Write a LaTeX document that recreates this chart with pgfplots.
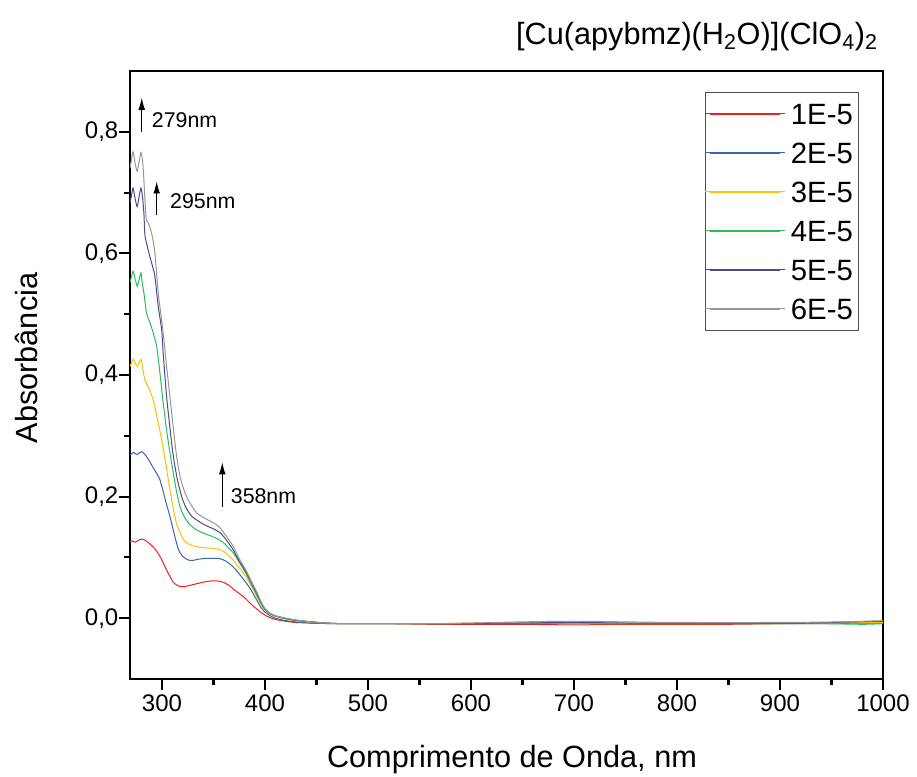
\documentclass[border=0pt]{standalone}
\usepackage{fontspec}
\setmainfont{Liberation Sans}
\usepackage{pgfplots}
\pgfplotsset{compat=1.18}
\usetikzlibrary{arrows.meta}
\newcommand\fs[1]{\fontsize{#1pt}{#1pt}\selectfont}
\definecolor{cRed}{RGB}{240,30,30}
\definecolor{cBlue}{RGB}{55,100,170}
\definecolor{cYel}{RGB}{255,190,0}
\definecolor{cGreen}{RGB}{40,190,90}
\definecolor{cPurp}{RGB}{75,75,140}
\definecolor{cGrey}{RGB}{150,150,150}
\definecolor{cFrame}{RGB}{80,80,80}
\begin{document}
\begin{tikzpicture}
\useasboundingbox (-97.5pt,-72.75pt) rectangle (590.25pt,509.25pt);
\begin{axis}[
  at={(0,0)}, anchor=south west,
  scale only axis, width=564.75pt, height=456pt,
  xmin=269, xmax=1000, ymin=-0.1, ymax=0.9,
  axis line style={line width=1.9pt},
  xtick={300,400,500,600,700,800,900,1000}, minor x tick num=1,
  ytick={0,0.2,0.4,0.6,0.8}, minor y tick num=1,
  tick align=outside, xtick pos=left, ytick pos=left,
  major tick length=8.25pt, minor tick length=4.5pt,
  major tick style={line width=1.6pt, black},
  minor tick style={line width=1.6pt, black},
  tick label style={font=\fs{18}},
  yticklabel style={xshift=3pt, /pgf/number format/.cd, use comma, fixed, fixed zerofill, precision=1, assume math mode=true},
  xticklabel style={/pgf/number format/.cd, 1000 sep={}, assume math mode=true},
  xlabel={Comprimento de Onda, nm},
  xlabel style={font=\fs{23}, at={(rel axis cs:0.5073,0)}, anchor=base, yshift=-66pt},
  ylabel={Absorbância},
  ylabel style={font=\fs{23}, at={(rel axis cs:-0.1222,0.528)}, anchor=base},
  legend cell align=left,
  legend style={at={(rel axis cs:0.9672,0.966)}, anchor=north east,
    draw=cFrame, line width=0.6pt,
    font=\fs{22}, inner xsep=0pt, inner ysep=1.6pt, row sep=0pt,
    nodes={inner xsep=3.75pt, inner ysep=6.75pt, text height=15.75pt, text depth=0pt}},
  legend image code/.code={\path (0pt,0pt) -- (60pt,0pt); \draw[#1, line width=1.3pt] (3.75pt,0pt) -- (56.25pt,0pt);},
  every axis plot/.append style={line width=0.75pt, smooth, tension=0.4},
  clip=true,
]
% 1E-5
\addplot[cRed] coordinates {
(269,0.126)(271,0.127)(274,0.125)(277,0.128)(280,0.130)(283,0.129)(287,0.124)(291,0.118)(295,0.110)(298,0.102)(301,0.092)(304,0.081)(308,0.068)(311,0.059)(314,0.055)(318,0.052)(322,0.052)(327,0.054)(332,0.056)(337,0.058)(342,0.060)(348,0.0612)(353,0.0613)(358,0.060)(362,0.057)(366,0.053)(370,0.047)(374,0.042)(378,0.037)(382,0.031)(386,0.024)(390,0.018)(395,0.011)(400,0.005)(405,0.001)(410,-0.002)(420,-0.005)(430,-0.007)(445,-0.008)(470,-0.009)(520,-0.009)(560,-0.010)(600,-0.010)(650,-0.010)(700,-0.011)(750,-0.010)(800,-0.010)(850,-0.010)(900,-0.009)(950,-0.009)(975,-0.008)(1000,-0.008)};
\addlegendentry{1E-5}
% 2E-5
\addplot[cBlue] coordinates {
(269,0.268)(271,0.271)(272.5,0.273)(274,0.271)(276,0.269)(278,0.272)(280,0.274)(282,0.272)(285,0.266)(288,0.258)(292,0.246)(295,0.238)(298,0.228)(301,0.210)(304,0.190)(308,0.166)(312,0.138)(316,0.113)(320,0.102)(325,0.096)(330,0.095)(335,0.097)(340,0.098)(348,0.0985)(356,0.098)(362,0.094)(366,0.089)(370,0.083)(375,0.073)(380,0.062)(384,0.053)(388,0.042)(392,0.030)(396,0.018)(400,0.010)(405,0.004)(410,0.000)(420,-0.004)(430,-0.006)(445,-0.008)(470,-0.009)(550,-0.009)(600,-0.009)(650,-0.009)(700,-0.009)(750,-0.009)(800,-0.009)(850,-0.009)(900,-0.009)(950,-0.008)(1000,-0.007)};
\addlegendentry{2E-5}
% 3E-5
\addplot[cYel] coordinates {
(269,0.414)(270.5,0.420)(272,0.426)(274,0.420)(276,0.414)(278,0.421)(279.6,0.426)(281,0.415)(283,0.395)(285,0.386)(288,0.376)(291,0.362)(293,0.349)(296,0.325)(299.7,0.294)(303,0.262)(307.7,0.212)(311,0.181)(314,0.157)(318,0.139)(322,0.127)(327,0.121)(333,0.118)(340,0.116)(348,0.115)(356,0.113)(362,0.107)(366,0.101)(370,0.094)(375,0.083)(379,0.074)(382,0.067)(387,0.052)(392,0.036)(396,0.023)(398,0.0175)(402,0.010)(408,0.005)(415,0.001)(425,-0.003)(440,-0.006)(460,-0.008)(480,-0.009)(560,-0.009)(620,-0.008)(660,-0.008)(720,-0.009)(800,-0.009)(880,-0.009)(950,-0.008)(1000,-0.007)};
\addlegendentry{3E-5}
% 4E-5
\addplot[cGreen] coordinates {
(269,0.5525)(270.5,0.562)(272,0.5706)(274,0.558)(276,0.546)(278,0.558)(279.6,0.568)(281,0.550)(282.5,0.535)(285,0.502)(287.5,0.490)(290,0.478)(292.5,0.463)(295,0.446)(298,0.404)(301,0.357)(304.5,0.310)(308,0.270)(311,0.239)(314,0.210)(317.4,0.184)(322,0.166)(327,0.154)(333,0.146)(340,0.140)(348,0.135)(354.5,0.130)(360,0.124)(365,0.115)(369,0.108)(374,0.095)(378,0.084)(382,0.072)(387,0.055)(391.8,0.039)(396,0.025)(400,0.014)(405,0.007)(410,0.003)(420,-0.001)(430,-0.004)(445,-0.006)(460,-0.008)(480,-0.009)(560,-0.009)(640,-0.008)(720,-0.008)(800,-0.008)(880,-0.009)(940,-0.009)(980,-0.010)(1000,-0.009)};
\addlegendentry{4E-5}
% 5E-5
\addplot[cPurp] coordinates {
(269,0.683)(270.5,0.696)(272,0.7075)(274,0.690)(276,0.677)(278,0.695)(279.6,0.7075)(281,0.695)(282.5,0.666)(283.5,0.630)(286,0.610)(288.3,0.595)(291,0.578)(293.2,0.562)(296.4,0.513)(299.7,0.475)(301.2,0.4365)(304.5,0.365)(308,0.310)(311,0.267)(315,0.228)(319,0.201)(323,0.183)(328.8,0.168)(336,0.159)(343.3,0.152)(350,0.147)(356.2,0.141)(362,0.130)(369,0.113)(375,0.094)(382,0.075)(387,0.058)(391.8,0.042)(396,0.027)(400,0.015)(405,0.008)(410,0.004)(420,0.000)(430,-0.003)(445,-0.006)(460,-0.008)(480,-0.009)(560,-0.009)(640,-0.008)(700,-0.007)(760,-0.008)(840,-0.008)(920,-0.008)(970,-0.006)(1000,-0.005)};
\addlegendentry{5E-5}
% 6E-5
\addplot[cGrey] coordinates {
(269,0.740)(270.5,0.755)(272,0.767)(274,0.748)(276,0.735)(278,0.752)(279.6,0.766)(281,0.755)(282,0.735)(284.5,0.660)(286,0.652)(288.3,0.644)(291,0.625)(293.2,0.600)(296.4,0.535)(299,0.500)(301.5,0.465)(304.5,0.415)(307.7,0.365)(311,0.313)(314.2,0.267)(318,0.230)(322.3,0.2065)(327,0.190)(333.6,0.1736)(340,0.166)(346.5,0.160)(352,0.155)(356.2,0.149)(362,0.136)(369,0.119)(375,0.098)(382,0.0777)(387,0.060)(391.8,0.044)(396,0.028)(400,0.016)(405,0.008)(410,0.004)(420,0.000)(430,-0.003)(445,-0.006)(460,-0.008)(480,-0.009)(560,-0.009)(600,-0.008)(650,-0.006)(700,-0.005)(750,-0.006)(800,-0.007)(900,-0.007)(960,-0.006)(1000,-0.004)};
\addlegendentry{6E-5}
% annotations
\draw[-{Latex[length=9pt,width=5pt]}, line width=0.7pt] (axis cs:280.4,0.799) -- (axis cs:280.4,0.856);
\node[anchor=base west, inner sep=0pt, font=\fs{16}] at (axis cs:290.1,0.8065) {279nm};
\draw[-{Latex[length=9pt,width=5pt]}, line width=0.7pt] (axis cs:294.9,0.6624) -- (axis cs:294.9,0.7183);
\node[anchor=base west, inner sep=0pt, font=\fs{16}] at (axis cs:307.8,0.6734) {295nm};
\draw[-{Latex[length=9pt,width=5pt]}, line width=0.7pt] (axis cs:358.6,0.1824) -- (axis cs:358.6,0.2564);
\node[anchor=base west, inner sep=0pt, font=\fs{16}] at (axis cs:366.7,0.189) {358nm};
\end{axis}
\node[anchor=base east, inner sep=0pt, font=\fs{23}] at (561.0pt,475.5pt) {[Cu(apybmz)(H\textsubscript{2}O)](ClO\textsubscript{4})\textsubscript{2}};
\end{tikzpicture}
\end{document}
